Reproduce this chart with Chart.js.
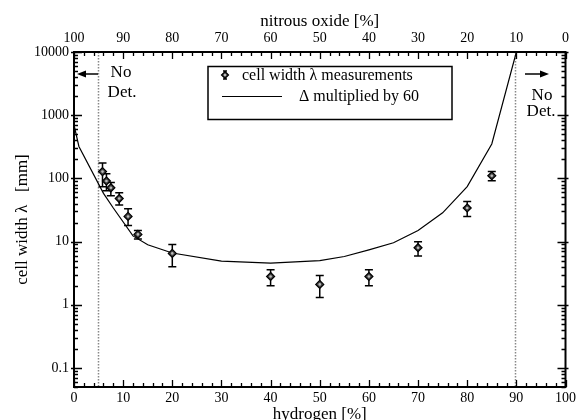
<!DOCTYPE html>
<html><head><meta charset="utf-8">
<script src="https://cdn.jsdelivr.net/npm/chart.js@4.4.0/dist/chart.umd.min.js"></script>
<style>html,body{margin:0;padding:0;background:#fff;} canvas{display:block;}</style>
</head><body>
<canvas id="c" width="579" height="420"></canvas>
<script>
// Δ multiplied by 60 (curve)
const curveH2     = [0, 1, 6, 8, 12, 15, 20, 30, 40, 50, 55, 60, 65, 70, 75, 80, 85, 90];
const curveLambda = [700, 320, 58, 34, 12.3, 8.9, 6.6, 4.9, 4.55, 5.0, 5.8, 7.4, 9.6, 15, 28.5, 74, 350, 10000];
// cell width measurements
const measH2     = [5.8, 6.6, 7.5, 9.2, 11, 13, 20, 40, 50, 60, 70, 80, 85];
const measLambda = [128, 91, 71, 48, 25, 13, 6.5, 2.8, 2.1, 2.8, 8.0, 34, 110];
const measHigh   = [175, 118, 86, 59, 33, 15, 9, 3.6, 2.9, 3.6, 9.9, 43, 128];
const measLow    = [74, 64, 53, 38, 18, 11, 4.0, 2.0, 1.3, 2.0, 5.9, 25, 92];
const yTickValues = [0.1, 1, 10, 100, 1000, 10000];
const noDetLimits = [5, 90];

const SERIF = '"Liberation Serif", "Times New Roman", serif';

function diamond(ctx, x, y, r) {
  ctx.beginPath();
  ctx.moveTo(x, y - r); ctx.lineTo(x + r, y); ctx.lineTo(x, y + r); ctx.lineTo(x - r, y); ctx.closePath();
  ctx.fillStyle = '#444'; ctx.fill();
  ctx.lineWidth = 1.2; ctx.strokeStyle = '#000'; ctx.stroke();
  ctx.beginPath(); ctx.arc(x, y, 1.3, 0, Math.PI * 2); ctx.fillStyle = '#bbb'; ctx.fill();
}

const deco = {
  id: 'deco',
  beforeDatasetsDraw(chart) {
    const {ctx, chartArea: ca, scales: {x, y}} = chart;
    ctx.save();
    // dotted "no detonation" limits
    ctx.strokeStyle = '#888'; ctx.lineWidth = 1.5; ctx.setLineDash([1.5, 1.5]);
    noDetLimits.forEach(v => {
      const px = Math.round(x.getPixelForValue(v)) - 0.5;
      ctx.beginPath(); ctx.moveTo(px, ca.top); ctx.lineTo(px, ca.bottom); ctx.stroke();
    });
    ctx.setLineDash([]);
    // error bars
    ctx.strokeStyle = '#000'; ctx.lineWidth = 1.5;
    measH2.forEach((h, i) => {
      const px = x.getPixelForValue(h);
      const y1 = y.getPixelForValue(measHigh[i]), y2 = y.getPixelForValue(measLow[i]);
      ctx.beginPath();
      ctx.moveTo(px, y1); ctx.lineTo(px, y2);
      ctx.moveTo(px - 4, y1); ctx.lineTo(px + 4, y1);
      ctx.moveTo(px - 4, y2); ctx.lineTo(px + 4, y2);
      ctx.stroke();
    });
    ctx.restore();
  },
  afterDatasetsDraw(chart) {
    const {ctx, chartArea: ca, scales: {x, y}} = chart;
    ctx.save();
    // markers
    measH2.forEach((h, i) => diamond(ctx, x.getPixelForValue(h), y.getPixelForValue(measLambda[i]), 4));
    // frame
    ctx.strokeStyle = '#000'; ctx.lineWidth = 2;
    ctx.strokeRect(ca.left, ca.top, ca.right - ca.left, ca.bottom - ca.top);
    // x ticks (bottom & top)
    ctx.lineWidth = 1.3;
    for (let v = 0; v <= 100; v += 2) {
      const px = Math.round(x.getPixelForValue(v)) + 0.5;
      const len = (v % 10 === 0) ? 7 : 4;
      ctx.beginPath();
      ctx.moveTo(px, ca.bottom); ctx.lineTo(px, ca.bottom - len);
      ctx.moveTo(px, ca.top); ctx.lineTo(px, ca.top + len);
      ctx.stroke();
    }
    // y ticks (left & right), log
    for (let e = -2; e <= 4; e++) {
      for (let m = 1; m <= 9; m++) {
        const v = m * Math.pow(10, e);
        if (v < 0.05 - 1e-9 || v > 10000 + 1e-9) continue;
        const py = Math.round(y.getPixelForValue(v)) + 0.5;
        const major = m === 1;
        const len = major ? 8 : 4;
        ctx.beginPath();
        ctx.moveTo(ca.left - (major ? 3 : 0), py); ctx.lineTo(ca.left + len, py);
        ctx.moveTo(ca.right + (major ? 3 : 0), py); ctx.lineTo(ca.right - len, py);
        ctx.stroke();
      }
    }
    // axis titles
    ctx.fillStyle = '#000';
    ctx.font = '17px ' + SERIF;
    ctx.textAlign = 'center'; ctx.textBaseline = 'alphabetic';
    const cx = (ca.left + ca.right) / 2;
    ctx.fillText('hydrogen [%]', cx, 419);
    ctx.fillText('nitrous oxide [%]', cx, 26);
    ctx.save();
    ctx.translate(27, (ca.top + ca.bottom) / 2);
    ctx.rotate(-Math.PI / 2);
    ctx.fillText('cell width \u03bb   [mm]', 0, 0);
    ctx.restore();
    // No Det. annotations
    ctx.font = '17px ' + SERIF;
    ctx.fillText('No', 121, 77);
    ctx.fillText('Det.', 122, 97);
    ctx.fillText('No', 542, 100);
    ctx.fillText('Det.', 541, 116);
    // arrows
    ctx.lineWidth = 1.5;
    ctx.beginPath(); ctx.moveTo(98, 74); ctx.lineTo(84, 74); ctx.stroke();
    ctx.beginPath(); ctx.moveTo(77, 74); ctx.lineTo(86, 70.5); ctx.lineTo(86, 77.5); ctx.closePath(); ctx.fill();
    ctx.beginPath(); ctx.moveTo(525, 74); ctx.lineTo(540, 74); ctx.stroke();
    ctx.beginPath(); ctx.moveTo(549, 74); ctx.lineTo(540, 70.5); ctx.lineTo(540, 77.5); ctx.closePath(); ctx.fill();
    // legend
    ctx.lineWidth = 1.5;
    ctx.strokeRect(208, 66.5, 244, 53);
    ctx.beginPath(); ctx.moveTo(225, 71); ctx.lineTo(225, 79);
    ctx.moveTo(223, 71); ctx.lineTo(227, 71); ctx.moveTo(223, 79); ctx.lineTo(227, 79); ctx.stroke();
    diamond(ctx, 225, 75, 3.5);
    ctx.lineWidth = 1; ctx.strokeStyle = '#000';
    ctx.beginPath(); ctx.moveTo(222, 96.5); ctx.lineTo(282, 96.5); ctx.stroke();
    ctx.font = '16px ' + SERIF; ctx.textAlign = 'left'; ctx.fillStyle = '#000';
    ctx.fillText('cell width \u03bb measurements', 242, 80);
    ctx.fillText('\u0394 multiplied by 60', 299, 101);
    ctx.restore();
  }
};

const tickFont = {family: SERIF, size: 14};

new Chart(document.getElementById('c'), {
  data: {
    datasets: [
      {
        type: 'line',
        label: '\u0394 multiplied by 60',
        data: curveH2.map((h, i) => ({x: h, y: curveLambda[i]})),
        borderColor: '#000', borderWidth: 1.2, pointRadius: 0, tension: 0, fill: false
      },
      {
        type: 'scatter',
        label: 'cell width \u03bb measurements',
        data: measH2.map((h, i) => ({x: h, y: measLambda[i]})),
        pointRadius: 0, showLine: false
      }
    ]
  },
  options: {
    responsive: false, animation: false, devicePixelRatio: 1,
    layout: {padding: {left: 0, right: 12, top: 0, bottom: 0}},
    plugins: {legend: {display: false}, tooltip: {enabled: false}},
    scales: {
      x: {
        type: 'linear', position: 'bottom', min: 0, max: 100,
        ticks: {stepSize: 10, font: tickFont, color: '#000', padding: 3, maxRotation: 0},
        grid: {display: false, drawTicks: false}, border: {display: false},
        afterFit: s => { s.height = 33; }
      },
      x2: {
        type: 'linear', position: 'top', min: 0, max: 100, reverse: true,
        ticks: {stepSize: 10, font: tickFont, color: '#000', padding: 5, maxRotation: 0},
        grid: {display: false, drawTicks: false}, border: {display: false},
        afterFit: s => { s.height = 52; }
      },
      y: {
        type: 'logarithmic', position: 'left', min: 0.05, max: 10000,
        afterBuildTicks: s => { s.ticks = yTickValues.map(v => ({value: v})); },
        ticks: {font: tickFont, color: '#000', padding: 5, autoSkip: false, callback: v => String(v)},
        grid: {display: false, drawTicks: false}, border: {display: false},
        afterFit: s => { s.width = 74; }
      }
    }
  },
  plugins: [deco]
});
</script>
</body></html>
